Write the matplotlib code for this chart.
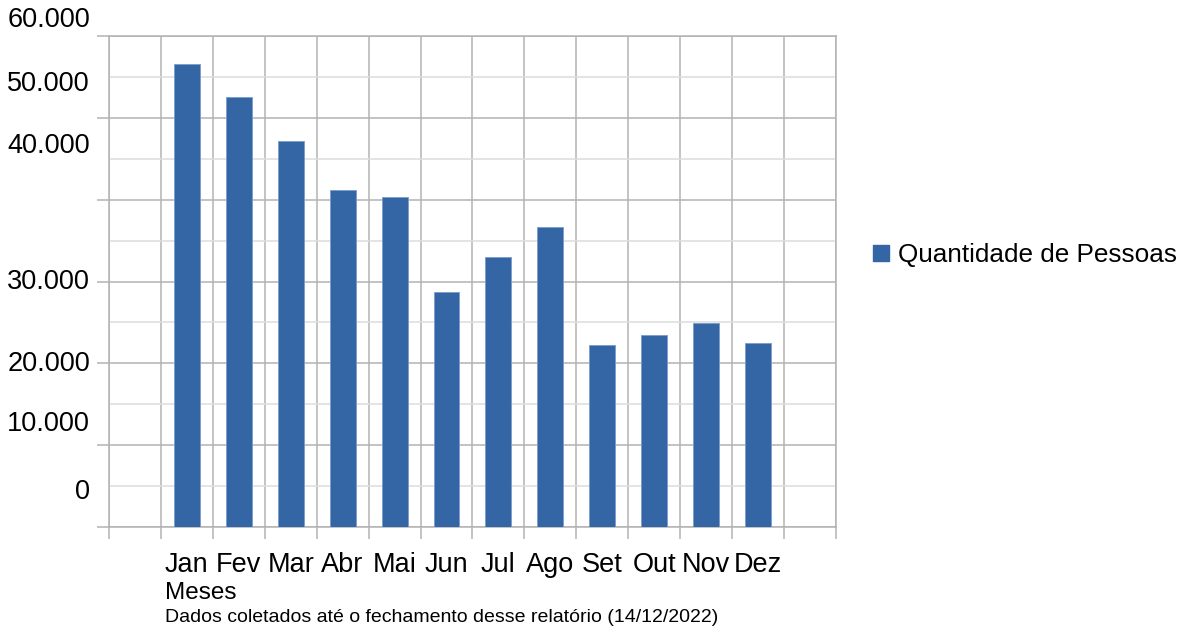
import numpy as np
import matplotlib.pyplot as plt
from matplotlib.patches import Patch
from matplotlib.ticker import MultipleLocator

plt.rcParams['font.family'] = ['Liberation Sans', 'DejaVu Sans']

# dados
meses = ['Jan', 'Fev', 'Mar', 'Abr', 'Mai', 'Jun', 'Jul', 'Ago', 'Set', 'Out', 'Nov', 'Dez']
pessoas = [56600, 52500, 47200, 41200, 40300, 28700, 33000, 36700, 22200, 23500, 24900, 22500]

# rotulos do eixo y (saem desalinhados na imagem original)
y_rotulos = ['60.000', '50.000', '40.000', '30.000', '20.000', '10.000', '0']
y_rotulos_pos = [61900, 54100, 46600, 29900, 19900, 12600, 4300]

GRID = '#b3b3b3'
GRID_MINOR = '#dddddd'
AZUL = '#3465a4'

fig = plt.figure(figsize=(11.92, 6.32), dpi=100)
ax = fig.add_axes([0.0914, 0.1661, 0.6099, 0.7769])

x = np.arange(len(meses))
ax.bar(x, pessoas, width=0.5, color=AZUL, edgecolor='#7a9ccb', linewidth=0.6, zorder=3)

ax.set_xlim(-1.5, 12.5)
ax.set_ylim(0, 60000)

# eixo x: divisoes entre categorias e rotulos no meio
ax.set_xticks(np.arange(-1.5, 13, 1))
ax.set_xticklabels([])
ax.set_xticks(x, minor=True)
ax.set_xticklabels(meses, minor=True, fontsize=19.5)
ax.tick_params(axis='x', which='major', length=8.6, width=1.1, color=GRID, direction='out')
ax.tick_params(axis='x', which='minor', length=0, pad=18)

# eixo y
ax.yaxis.set_major_locator(MultipleLocator(10000))
ax.yaxis.set_minor_locator(MultipleLocator(5000))
ax.set_yticklabels([])
ax.tick_params(axis='y', which='major', length=8.6, width=1.1, color=GRID, direction='out')
ax.tick_params(axis='y', which='minor', length=0)

ax.grid(True, which='major', axis='both', color=GRID, linewidth=1.1)
ax.grid(True, which='minor', axis='y', color=GRID_MINOR, linewidth=1.1)
ax.set_axisbelow(True)
for s in ax.spines.values():
    s.set_color(GRID)
    s.set_linewidth(1.1)

for lab, pos in zip(y_rotulos, y_rotulos_pos):
    ax.text(-0.026, pos, lab, transform=ax.get_yaxis_transform(), ha='right', va='center',
            fontsize=19.5, clip_on=False)

fig.text(165 / 1192, 1 - 593 / 632, 'Meses', fontsize=17.5, ha='left', va='center')
fig.text(165 / 1192, 1 - 617 / 632, 'Dados coletados até o fechamento desse relatório (14/12/2022)',
         fontsize=14, ha='left', va='center')

ax.legend(handles=[Patch(color=AZUL, label='Quantidade de Pessoas')],
          loc='center left', bbox_to_anchor=(873 / 1192, 1 - 255 / 632),
          bbox_transform=fig.transFigure, frameon=False, fontsize=18.8,
          borderpad=0, borderaxespad=0, handlelength=0.6, handleheight=0.6,
          handletextpad=0.35)

fig.savefig('out.png', dpi=100)
